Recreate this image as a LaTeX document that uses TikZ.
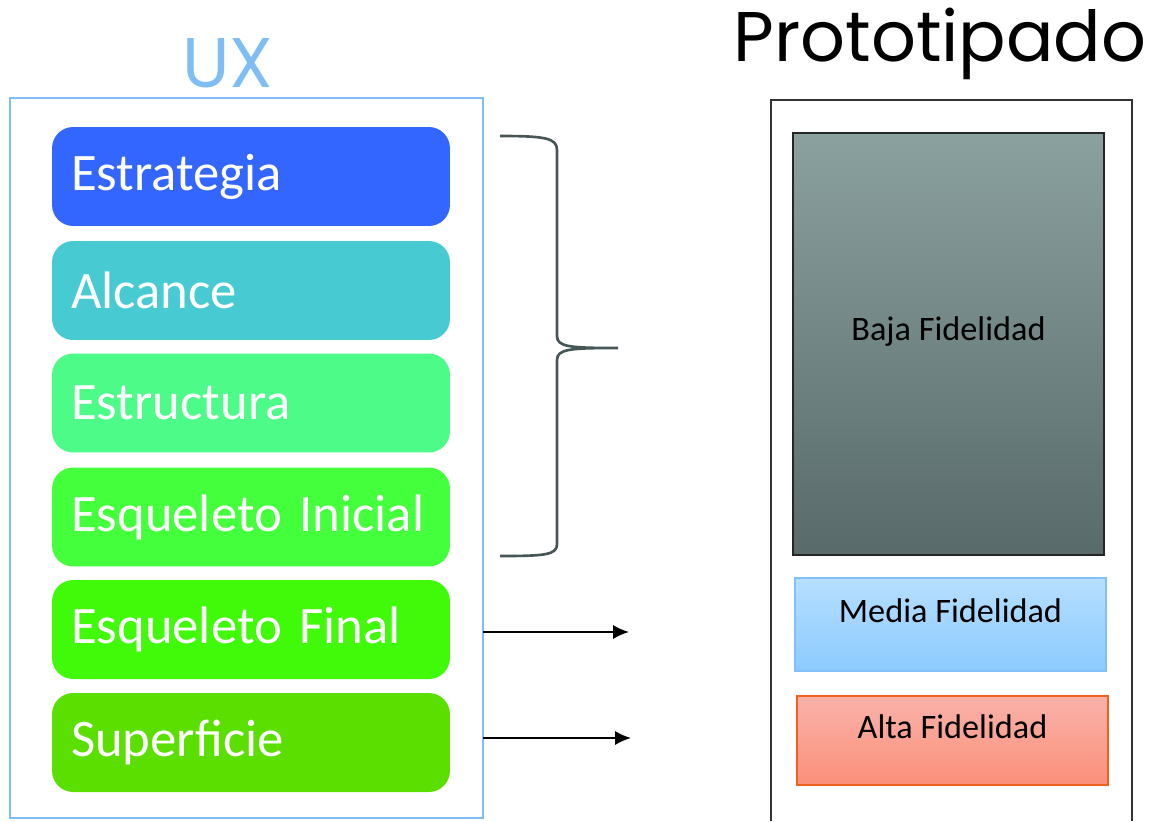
\documentclass[tikz,border=0pt]{standalone}
\usepackage{fontspec}
\setmainfont{Carlito}
\newfontfamily\titlefont{Poppins}
\usepackage{tikz}
\usetikzlibrary{arrows.meta}

\definecolor{uxblue}{RGB}{126,190,245}
\definecolor{estrcol}{RGB}{51,102,255}
\definecolor{alccol}{RGB}{72,202,210}
\definecolor{structcol}{RGB}{77,252,136}
\definecolor{inicol}{RGB}{68,255,60}
\definecolor{fincol}{RGB}{64,250,10}
\definecolor{supcol}{RGB}{91,223,0}
\definecolor{bracecol}{RGB}{70,86,86}

\tikzset{
    layer/.style={rounded corners=12, minimum width=7.96cm, minimum height=1.98cm,
        text width=7.2cm, inner xsep=0.38cm, align=left, text=white,
        font=\fontsize{30}{30}\selectfont},
    fidelity/.style={draw, minimum width=6.22cm, text=black, line width=0.9pt,
        font=\fontsize{19.5}{19.5}\selectfont},
    title/.style={font=\titlefont\fontsize{40}{40}\selectfont},
    goes/.style={-{Latex[length=9pt,width=8pt]}, line width=1.1pt}
}

\begin{document}
\begin{tikzpicture}[x=0.02cm,y=-0.02cm]
    \useasboundingbox (0,0) rectangle (1151,821);
    \node[title, text=uxblue] (uxtitle) at (228,63) {UX};
    \draw[uxblue, line width=1.1pt] (10,98) rectangle (483,818);
    \coordinate (uxedge) at (483,0);

    \node[layer, fill=estrcol] (estrategia) at (251,176.5) {Estrategia};
    \node[layer, fill=alccol] (alcance) at (251,290.5) {Alcance};
    \node[layer, fill=structcol] (estructura) at (251,403) {Estructura};
    \node[layer, fill=inicol] (inicial) at (251,517) {Esqueleto Inicial};
    \node[layer, fill=fincol] (final) at (251,629.5) {Esqueleto Final};
    \node[layer, fill=supcol] (superficie) at (251,742.5) {Superficie};

    \draw[bracecol, line width=1.5pt] (500,136) .. controls (545,136) and (557,138) .. (557,150)
        -- (557,336) .. controls (557,347) and (570,348) .. (618,348)
        .. controls (570,348) and (557,349) .. (557,360)
        -- (557,544) .. controls (557,555) and (545,556) .. (500,556);

    \coordinate (finstart) at (final.east -| uxedge);
    \coordinate (supstart) at (superficie.east -| uxedge);
    \coordinate (tofinal) at (629,632);
    \coordinate (tosup) at (631,738);
    \draw[goes] (finstart |- tofinal) -- (tofinal);
    \draw[goes] (supstart |- tosup) -- (tosup);

    \node[title] (prototitle) at (940,44) {Prototipado};
    \draw[black!80, line width=1.2pt] (771,821) -- (771,100) -- (1132,100) -- (1132,821);

    \node[fidelity, minimum height=8.44cm, top color={rgb,255:red,139;green,161;blue,159},
        bottom color={rgb,255:red,88;green,106;blue,106}, draw=black!85,
        text depth=0.6cm] (baja) at (948.5,344) {Baja Fidelidad};
    \node[fidelity, minimum height=1.86cm, top color={rgb,255:red,182;green,223;blue,255},
        bottom color={rgb,255:red,140;green,202;blue,255}, draw={rgb,255:red,130;green,192;blue,250},
        text depth=0.54cm] (media) at (950.5,624.5) {Media Fidelidad};
    \node[fidelity, minimum height=1.78cm, top color={rgb,255:red,250;green,178;blue,170},
        bottom color={rgb,255:red,250;green,143;blue,121}, draw={rgb,255:red,240;green,96;blue,32},
        text depth=0.56cm] (alta) at (952.5,740.5) {Alta Fidelidad};
\end{tikzpicture}
\end{document}
